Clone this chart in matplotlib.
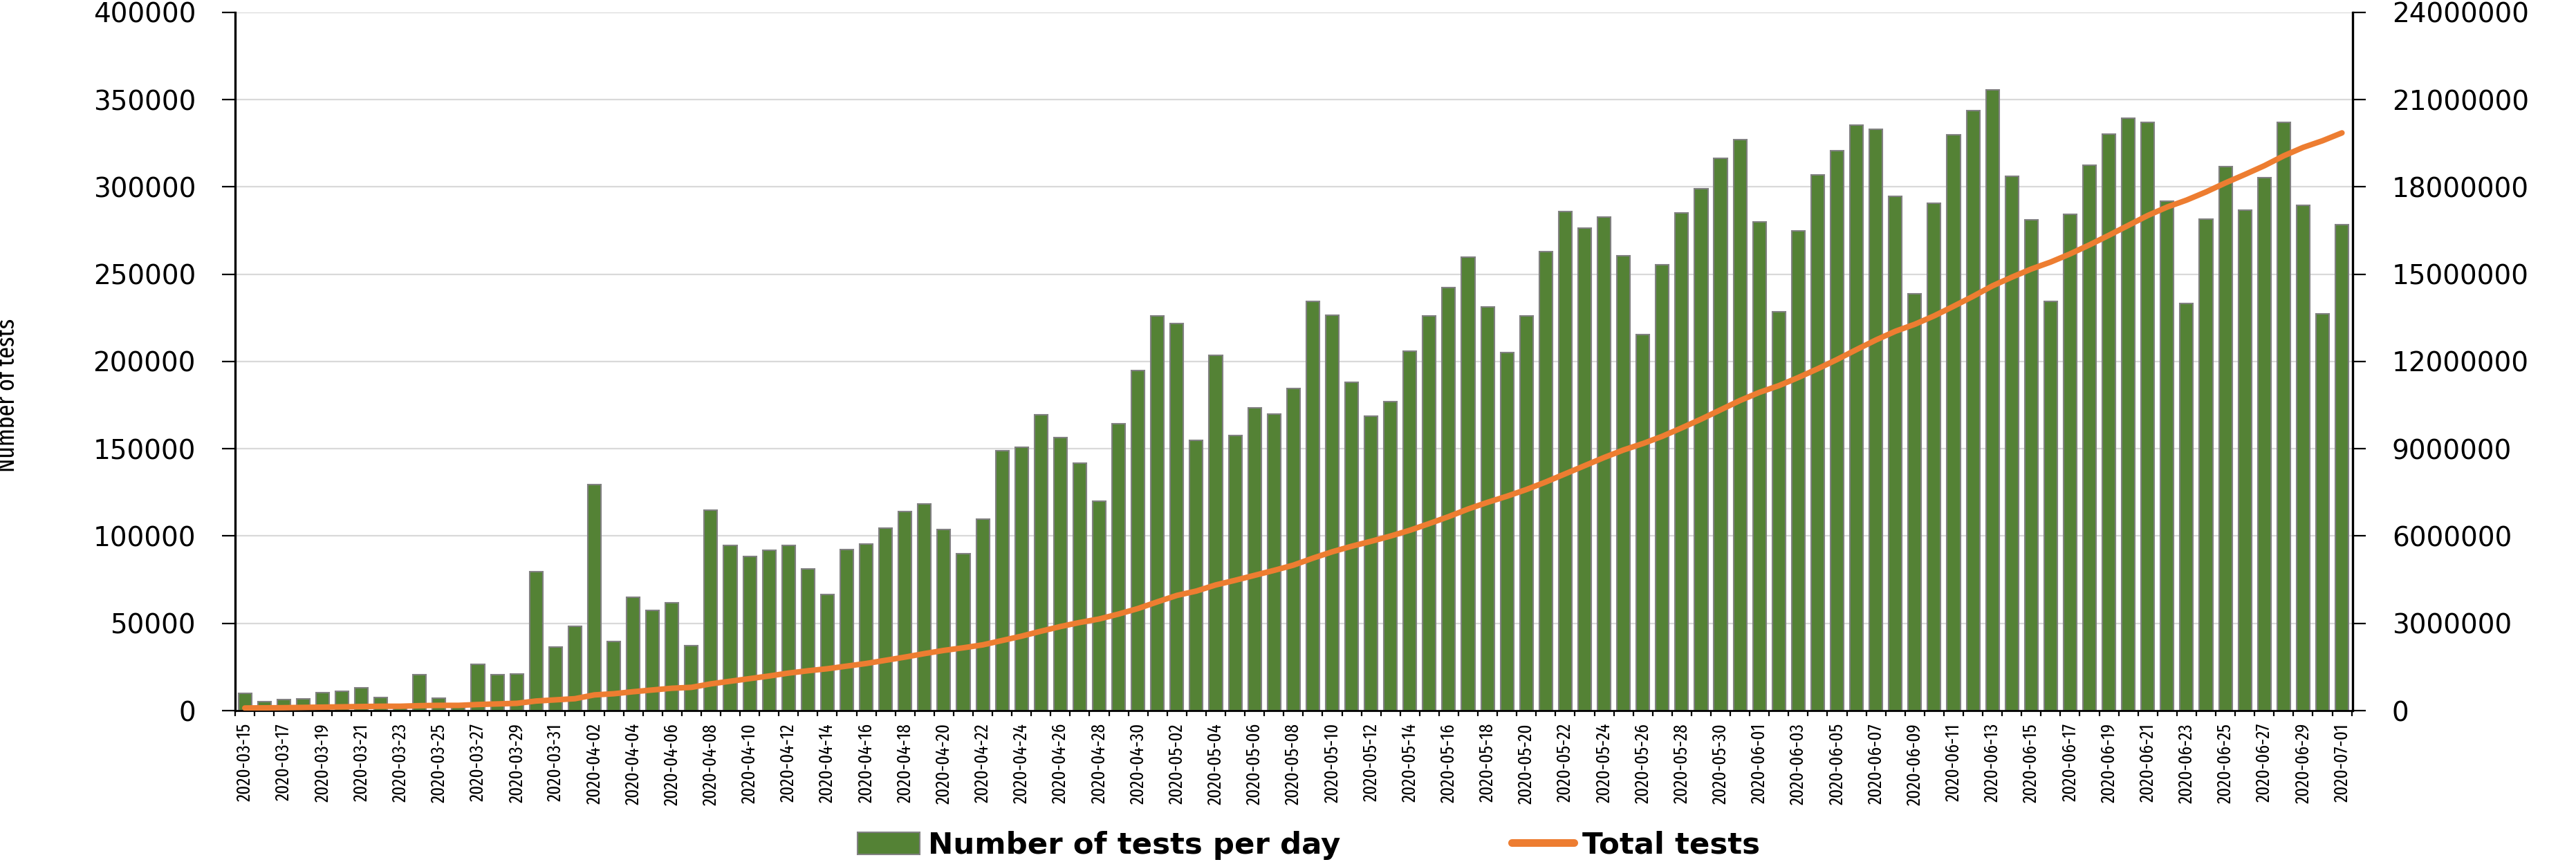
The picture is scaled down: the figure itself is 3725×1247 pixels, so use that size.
import os
import matplotlib
matplotlib.use('Agg')
import matplotlib.pyplot as plt
import numpy as np
import pandas as pd
from matplotlib import font_manager
from matplotlib.font_manager import FontProperties
from matplotlib.patches import Patch
from matplotlib.lines import Line2D

# ---------------- data ----------------
dates = pd.date_range('2020-03-15', '2020-07-01', freq='D').strftime('%Y-%m-%d').tolist()

tests_per_day = [
    10000, 5300, 6400, 6900, 10300, 10900, 13000, 7700, 2000, 20400,
    7150, 2000, 26500, 20400, 20900, 79500, 36300, 48500, 129500, 39500,
    64900, 57500, 61700, 37400, 114700, 94600, 88200, 91900, 94600, 81300,
    66500, 92400, 95600, 104600, 114200, 118400, 103600, 89800, 109900, 149100,
    150700, 169500, 156600, 141700, 120000, 164500, 194700, 226000, 221700, 155000,
    203700, 157600, 173500, 169800, 184600, 234400, 226500, 188300, 168700, 177200,
    205800, 226000, 242400, 259900, 231300, 205300, 226000, 263000, 285800, 276300,
    282600, 260400, 215400, 255600, 285300, 299100, 316600, 327100, 280000, 228600,
    274700, 307000, 320800, 335600, 333000, 294800, 238700, 290600, 329800, 343600,
    355800, 306000, 281100, 234400, 284200, 312300, 330300, 339300, 337200, 291700,
    233400, 281600, 311800, 286900, 305400, 337200, 289500, 227500, 278400,
]

total_tests = [
    90000, 95000, 100000, 110000, 120000, 130000, 140000, 150000, 150000, 170000,
    180000, 180000, 210000, 230000, 250000, 330000, 370000, 410000, 540000, 580000,
    650000, 710000, 770000, 800000, 920000, 1010000, 1100000, 1190000, 1290000, 1370000,
    1440000, 1530000, 1620000, 1730000, 1840000, 1960000, 2070000, 2160000, 2260000, 2410000,
    2560000, 2730000, 2890000, 3030000, 3150000, 3320000, 3510000, 3740000, 3960000, 4110000,
    4320000, 4480000, 4650000, 4820000, 5000000, 5240000, 5460000, 5650000, 5820000, 6000000,
    6200000, 6430000, 6670000, 6930000, 7160000, 7370000, 7600000, 7860000, 8140000, 8420000,
    8700000, 8960000, 9180000, 9430000, 9720000, 10020000, 10340000, 10660000, 10940000, 11170000,
    11450000, 11750000, 12070000, 12410000, 12740000, 13040000, 13280000, 13570000, 13900000, 14240000,
    14600000, 14900000, 15180000, 15420000, 15700000, 16010000, 16340000, 16680000, 17020000, 17310000,
    17550000, 17830000, 18140000, 18430000, 18730000, 19070000, 19360000, 19590000, 19860000,
]

left_ticks = [0, 50000, 100000, 150000, 200000, 250000, 300000, 350000, 400000]
right_ticks = [0, 3000000, 6000000, 9000000, 12000000, 15000000, 18000000, 21000000, 24000000]

series_labels = ['Number of tests per day', 'Total tests']
y_title = 'Number of tests'

# ---------------- fonts ----------------
def pick_condensed():
    bad = ('Bold', 'Italic', 'Oblique', 'Light', 'Thin', 'Medium', 'Black', 'SemiBold',
           'ExtraBold', 'Heavy', '[', 'Semi', 'Extra Light')
    best, best_rank = None, 99
    for f in font_manager.fontManager.ttflist:
        b = os.path.basename(f.fname)
        core = b.replace('ExtraCondensed', 'XC').replace('SemiCondensed', 'SC_')
        if any(k in core for k in bad):
            continue
        if 'XC' in core:
            rank = 0
        elif 'Narrow' in core:
            rank = 1
        elif 'Condensed' in core:
            rank = 2
        elif 'SC_' in core:
            rank = 3
        else:
            continue
        if rank < best_rank:
            best, best_rank = f.fname, rank
    return best

cond_path = pick_condensed()

def cond_fp(size):
    if cond_path:
        return FontProperties(fname=cond_path, size=size)
    return FontProperties(family='DejaVu Sans', size=size)

plt.rcParams['font.family'] = ['DejaVu Sans']

BAR = '#548235'
EDGE = '#808080'
ORANGE = '#ED7D31'

fig = plt.figure(figsize=(37.25, 12.47), dpi=100)
renderer = fig.canvas.get_renderer()

def fit_size(text, make_fp, target_px):
    t = fig.text(0, 0, text, fontproperties=make_fp(20))
    w = t.get_window_extent(renderer).width
    t.remove()
    return 20 * target_px / w

xlab_size = fit_size('2020-03-15', cond_fp, 113)
ylab_size = fit_size(y_title, cond_fp, 223)
leg_size = fit_size(series_labels[0], lambda s: FontProperties(family='DejaVu Sans', weight='bold', size=s), 596)

ax = fig.add_axes([0.09128, 0.17562, 0.82201, 0.80995])

x = np.arange(len(dates))
ax.bar(x, tests_per_day, width=0.68, color=BAR, edgecolor=EDGE, linewidth=1.5, zorder=2)
ax.set_ylim(0, 400000)
ax.set_yticks(left_ticks)
ax.set_yticklabels([str(v) for v in left_ticks])
ax.yaxis.grid(True, color='#d9d9d9', linewidth=1.6, zorder=0)
ax.set_axisbelow(True)
ax.set_xlim(-0.45, len(dates) - 0.45)

ax.set_xticks(x[::2])
ax.set_xticklabels(dates[::2], rotation=90, fontproperties=cond_fp(xlab_size))
ax.set_xticks(np.arange(-0.5, len(dates) + 0.5, 1.0), minor=True)
ax.tick_params(axis='x', which='major', length=0, pad=13)
ax.tick_params(axis='x', which='minor', length=6, width=1.6, direction='out', color='black')
ax.tick_params(axis='y', length=14, width=1.6, pad=27, labelsize=28, color='black')

for s in ['top', 'right']:
    ax.spines[s].set_visible(False)
ax.spines['left'].set_linewidth(2.4)
ax.spines['left'].set_color('black')
ax.spines['bottom'].set_linewidth(2.0)
ax.spines['bottom'].set_color('black')

ax2 = ax.twinx()
ax2.plot(x, total_tests, color=ORANGE, linewidth=5.8, solid_capstyle='round',
         solid_joinstyle='round', zorder=3)
ax2.set_ylim(0, 24000000)
ax2.set_yticks(right_ticks)
ax2.set_yticklabels([str(v) for v in right_ticks])
ax2.tick_params(axis='y', length=14, width=1.6, pad=27, labelsize=28, color='black')
for s in ['top', 'left', 'bottom']:
    ax2.spines[s].set_visible(False)
ax2.spines['right'].set_linewidth(2.4)
ax2.spines['right'].set_color('black')

fig.text(11 / 3725, 1 - 572 / 1247, y_title, rotation=90, ha='center', va='center',
         fontproperties=cond_fp(ylab_size))

em = leg_size * 100 / 72.0
handles = [Patch(facecolor=BAR, edgecolor=EDGE, linewidth=1.5),
           Line2D([], [], color=ORANGE, linewidth=8, solid_capstyle='round')]
fig.legend(handles, series_labels, loc='center', bbox_to_anchor=(0.5081, 0.0193), ncol=2,
           frameon=False, prop={'weight': 'bold', 'size': leg_size, 'family': 'DejaVu Sans'},
           handlelength=90 / em, handleheight=0.75, handletextpad=12 / em,
           columnspacing=247 / em)

fig.savefig('out.png', dpi=100)
